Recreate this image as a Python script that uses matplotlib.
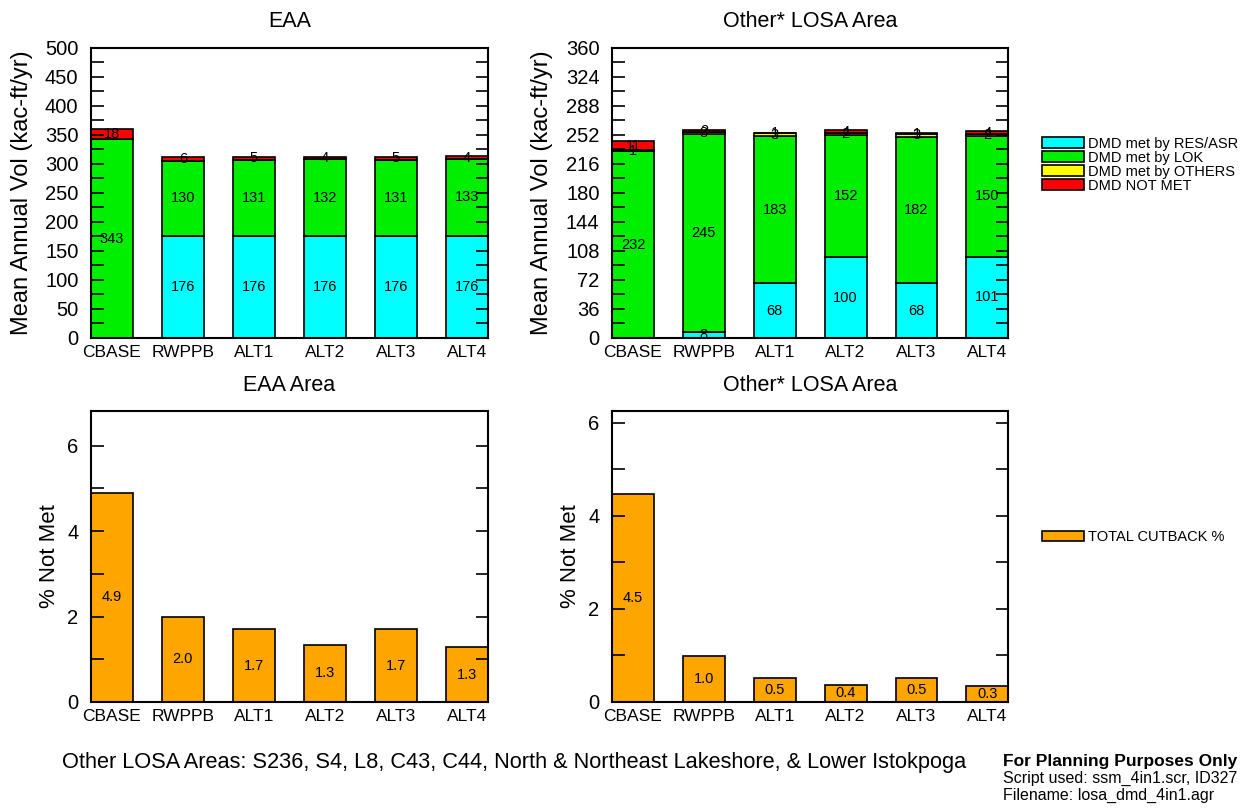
import numpy as np
import matplotlib.pyplot as plt
from matplotlib.ticker import MultipleLocator
from matplotlib.patches import Patch

plt.rcParams['font.family'] = ['Liberation Sans', 'DejaVu Sans']

alts = ['CBASE', 'RWPPB', 'ALT1', 'ALT2', 'ALT3', 'ALT4']

# EAA mean annual volumes (kac-ft/yr)
eaa_res = [0, 176, 176, 176, 176, 176]
eaa_lok = [343, 130, 131, 132, 131, 133]
eaa_oth = [0, 0, 0, 0, 0, 0]
eaa_notmet = [18, 6, 5, 4, 5, 4]

# Other LOSA areas mean annual volumes (kac-ft/yr)
losa_res = [0, 8, 68, 100, 68, 101]
losa_lok = [232, 245, 183, 152, 182, 150]
losa_oth = [1, 3, 3, 2, 3, 2]
losa_notmet = [11, 2, 1, 4, 1, 4]

# percent not met
eaa_pct = [4.9, 2.0, 1.7, 1.34, 1.7, 1.28]
losa_pct = [4.47, 0.98, 0.52, 0.37, 0.52, 0.34]

seg_names = ['DMD met by RES/ASR', 'DMD met by LOK', 'DMD met by OTHERS', 'DMD NOT MET']
seg_colors = ['#00ffff', '#00ee00', '#ffff00', '#ff0000']
cut_color = '#ffa500'

W = 0.59
x = np.arange(len(alts))

fig = plt.figure(figsize=(12.46, 8.08), dpi=100)
ax1 = fig.add_axes([0.073, 0.5817, 0.3186, 0.3589])
ax2 = fig.add_axes([0.4912, 0.5817, 0.318, 0.3589])
ax3 = fig.add_axes([0.073, 0.1312, 0.3186, 0.3605])
ax4 = fig.add_axes([0.4912, 0.1312, 0.318, 0.3605])


def style_axis(ax, ymax, major, minor):
    ax.set_xlim(-W / 2, len(alts) - 1 + W / 2)
    ax.set_ylim(0, ymax)
    ax.yaxis.set_major_locator(MultipleLocator(major))
    ax.yaxis.set_minor_locator(MultipleLocator(minor))
    ax.tick_params(axis='y', which='both', direction='in', left=True, right=True,
                   labelsize=14.5, width=1.2, length=9, pad=9)
    ax.tick_params(axis='x', length=0, labelsize=12.5, pad=5)
    ax.set_xticks(x)
    ax.set_xticklabels(alts)
    for s in ax.spines.values():
        s.set_linewidth(1.5)


def stacked(ax, series):
    bottom = np.zeros(len(alts))
    for vals, col in zip(series, seg_colors):
        vals = np.array(vals, dtype=float)
        ax.bar(x, vals, W, bottom=bottom, color=col, edgecolor='black', linewidth=1.2)
        for i, v in enumerate(vals):
            if v > 0:
                ax.text(x[i], bottom[i] + v / 2, '%d' % v, ha='center', va='center', fontsize=10.5)
        bottom += vals


stacked(ax1, [eaa_res, eaa_lok, eaa_oth, eaa_notmet])
style_axis(ax1, 500, 50, 25)
ax1.set_title('EAA', fontsize=15.5, pad=15)
ax1.set_ylabel('Mean Annual Vol (kac-ft/yr)', fontsize=17)
ax1.yaxis.set_label_coords(-0.146, 0.5)

stacked(ax2, [losa_res, losa_lok, losa_oth, losa_notmet])
style_axis(ax2, 360, 36, 18)
ax2.set_title('Other* LOSA Area', fontsize=15.5, pad=15)
ax2.set_ylabel('Mean Annual Vol (kac-ft/yr)', fontsize=17)
ax2.yaxis.set_label_coords(-0.148, 0.5)

for ax, pct, ymax, title in [(ax3, eaa_pct, 6.82, 'EAA Area'),
                             (ax4, losa_pct, 6.26, 'Other* LOSA Area')]:
    ax.bar(x, pct, W, color=cut_color, edgecolor='black', linewidth=1.2)
    for i, v in enumerate(pct):
        ax.text(x[i], v / 2, '%.1f' % v, ha='center', va='center', fontsize=10.5)
    style_axis(ax, ymax, 2, 1)
    ax.set_title(title, fontsize=15.5, pad=14)
    ax.set_ylabel('% Not Met', fontsize=16)
    ax.yaxis.set_label_coords(-0.078, 0.5)

h1 = [Patch(facecolor=c, edgecolor='black', linewidth=1.2) for c in seg_colors]
fig.legend(h1, seg_names, loc='upper left', bbox_to_anchor=(0.836, 0.831), frameon=False,
           fontsize=10.5, handlelength=2.9, handleheight=0.7, handletextpad=0.3,
           labelspacing=0.0, borderpad=0, borderaxespad=0)
h2 = [Patch(facecolor=cut_color, edgecolor='black', linewidth=1.2)]
fig.legend(h2, ['TOTAL CUTBACK %'], loc='upper left', bbox_to_anchor=(0.836, 0.344), frameon=False,
           fontsize=10.5, handlelength=2.9, handleheight=0.7, handletextpad=0.3,
           borderpad=0, borderaxespad=0)

fig.text(0.413, 0.056, 'Other LOSA Areas: S236, S4, L8, C43, C44, North & Northeast Lakeshore, & Lower Istokpoga',
         ha='center', va='center', fontsize=15.7)
fig.text(0.805, 0.058, 'For Planning Purposes Only', ha='left', va='center', fontsize=12.5, fontweight='bold')
fig.text(0.805, 0.037, 'Script used: ssm_4in1.scr, ID327', ha='left', va='center', fontsize=11.5)
fig.text(0.805, 0.015, 'Filename: losa_dmd_4in1.agr', ha='left', va='center', fontsize=11.5)

fig.savefig('out.png', dpi=100)
